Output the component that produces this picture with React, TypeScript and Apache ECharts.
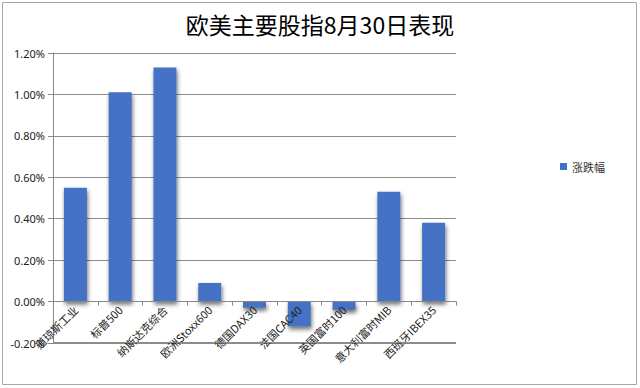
import React, { useEffect, useRef } from "react";
import * as echarts from "echarts";

const categories = [
  "道琼斯工业",
  "标普500",
  "纳斯达克综合",
  "欧洲Stoxx600",
  "德国DAX30",
  "法国CAC40",
  "英国富时100",
  "意大利富时MIB",
  "西班牙IBEX35",
];
const changePct = [0.55, 1.01, 1.13, 0.09, -0.03, -0.12, -0.04, 0.53, 0.38];
const seriesName = "涨跌幅";
const titleText = "欧美主要股指8月30日表现";

const yMin = -0.2;
const yMax = 1.2;
const gridTop = 53;
const gridBottom = 45;
const gridLeft = 53;
const gridRight = 184;
const chartW = 640;
const chartH = 388;

export default function App() {
  const ref = useRef<HTMLDivElement>(null);
  useEffect(() => {
    document.body.style.margin = "0";
    const chart = echarts.init(ref.current!, null, { renderer: "svg" });
    const plotH = chartH - gridTop - gridBottom;
    const zeroOffset = -((0 - yMin) / (yMax - yMin)) * plotH;
    const frame = {
      type: "rect",
      shape: { x: 2.5, y: 2.5, width: 634, height: 382 },
      style: { fill: "none", stroke: "#a6a6a6", lineWidth: 1 },
      silent: true,
    };
    chart.setOption({
      animation: false,
      backgroundColor: "#fff",
      title: {
        text: titleText,
        left: "center",
        top: 7,
        textStyle: {
          fontFamily: "Noto Sans CJK SC",
          fontSize: 23,
          fontWeight: "normal",
          color: "#000",
        },
      },
      legend: {
        data: [seriesName],
        left: 555,
        top: 156,
        orient: "vertical",
        itemWidth: 7,
        itemHeight: 7,
        icon: "rect",
        itemGap: 4,
        textStyle: { fontFamily: "Noto Sans CJK SC", fontSize: 11, color: "#333" },
      },
      graphic: [frame],
      grid: {
        left: gridLeft,
        right: gridRight,
        top: gridTop,
        bottom: gridBottom,
        containLabel: false,
        outerBoundsMode: "none",
      },
      xAxis: {
        type: "category",
        data: categories,
        offset: zeroOffset,
        z: 5,
        axisLine: { onZero: false, lineStyle: { color: "#888", width: 1 } },
        axisTick: { show: true, length: 4, lineStyle: { color: "#888" } },
        axisLabel: {
          rotate: 45,
          interval: 0,
          margin: 6,
          fontFamily: "Noto Sans CJK SC",
          fontSize: 11,
          color: "#222",
        },
      },
      yAxis: {
        type: "value",
        min: yMin,
        max: yMax,
        interval: 0.2,
        axisLine: { show: true, lineStyle: { color: "#888" } },
        axisTick: { show: true, length: 5, lineStyle: { color: "#888" } },
        splitLine: {
          show: true,
          lineStyle: { color: "#8c8c8c", width: 1 },
        },
        axisLabel: {
          formatter: (v: number) => v.toFixed(2) + "%",
          fontFamily: "Noto Sans",
          fontSize: 11,
          color: "#222",
          margin: 8,
        },
      },
      series: [
        {
          name: seriesName,
          type: "bar",
          data: changePct,
          barWidth: 23,
          z: 2,
          itemStyle: {
            color: "#4472c4",
            shadowColor: "rgba(0,0,0,0.55)",
            shadowBlur: 4,
            shadowOffsetY: 3,
            shadowOffsetX: 1,
          },
        },
      ],
    });
    const yPix = chart.convertToPixel({ yAxisIndex: 0 }, yMin) as number;
    if (typeof yPix === "number" && isFinite(yPix)) {
      const yLine = Math.floor(yPix) - 0.5;
      chart.setOption({
        graphic: [
          frame,
          {
            type: "line",
            silent: true,
            z: 10,
            shape: { x1: gridLeft, y1: yLine, x2: chartW - gridRight, y2: yLine },
            style: { stroke: "#8c8c8c", lineWidth: 1 },
          },
        ],
      });
    }
    return () => chart.dispose();
  }, []);
  return <div ref={ref} style={{ width: 640, height: 388 }} />;
}
